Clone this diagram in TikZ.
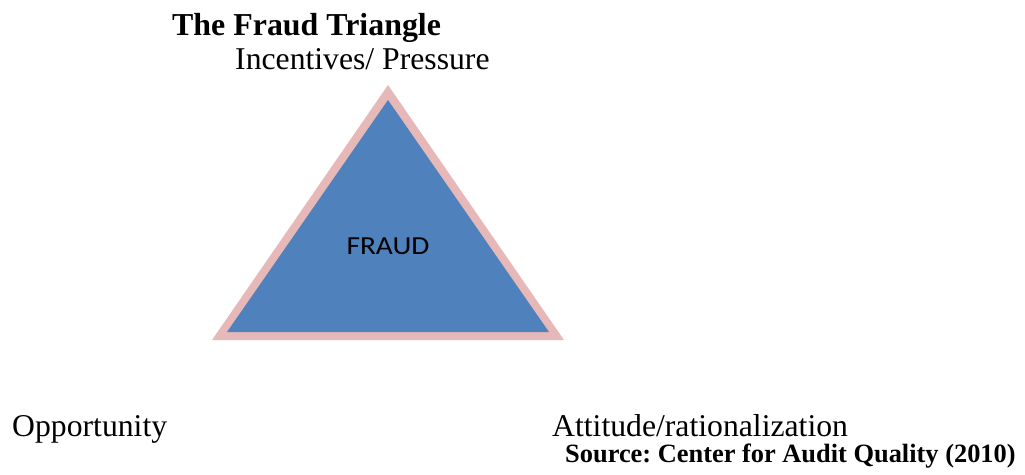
\documentclass[tikz,border=0pt]{standalone}
\usepackage{fontspec}
\setmainfont{Liberation Serif}
\newfontfamily\calibri{Carlito}
\frenchspacing
\begin{document}
\begin{tikzpicture}[x=1pt,y=-1pt,
  lbl/.style={inner sep=0pt, anchor=base west, font=\fontsize{31.7}{36}\selectfont},
  ttl/.style={inner sep=0pt, anchor=base west, font=\fontsize{31.9}{36}\selectfont\bfseries},
  src/.style={inner sep=0pt, anchor=base west, font=\fontsize{26.4}{30}\selectfont\bfseries}]
\useasboundingbox (0,0) rectangle (1025,474);
\definecolor{tripink}{HTML}{E6B9B8}
\definecolor{triblue}{HTML}{4F81BD}
\fill[tripink] (388,85) -- (212,340) -- (564,340) -- cycle;
\fill[triblue] (388,100) -- (227,332) -- (549,332) -- cycle;
\node[inner sep=0pt, font=\calibri\fontsize{26}{30}\selectfont, xscale=1.13] (fraud) at (388,246) {FRAUD};
\node[ttl] (title) at (172,35) {The Fraud Triangle};
\node[lbl] (inc) at (235,69) {Incentives/ Pressure};
\node[lbl] (opp) at (12,436) {Opportunity};
\node[lbl] (att) at (552,436) {Attitude/rationalization};
\node[src] (source) at (565,462) {Source: Center for Audit Quality (2010)};
\end{tikzpicture}
\end{document}
